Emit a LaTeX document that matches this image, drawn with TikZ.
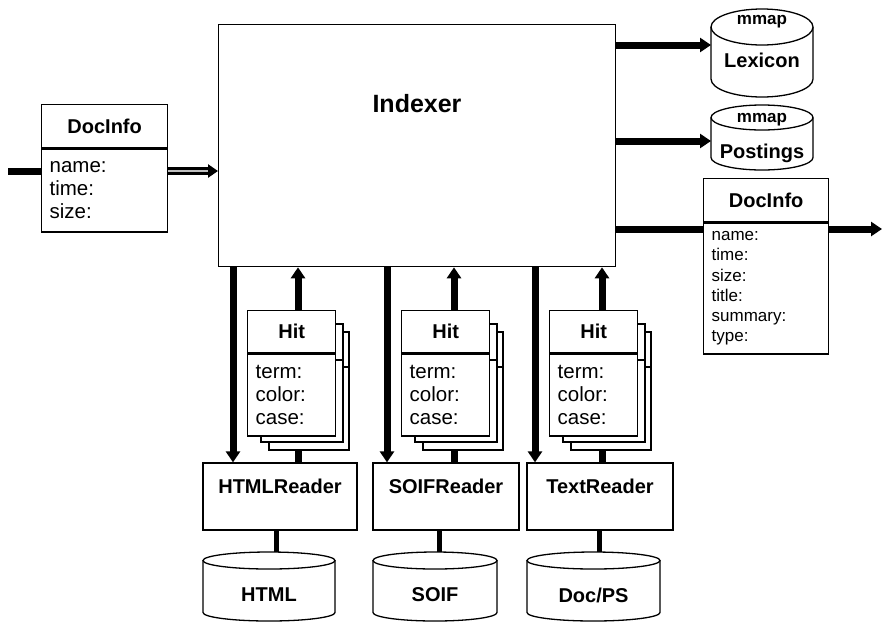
\documentclass[tikz,border=0pt]{standalone}
\usepackage{fontspec}
\setmainfont{Liberation Sans}
\usetikzlibrary{arrows.meta,positioning,calc}

% storage drum: name, centre x, top y, width, height, cap radius
\newcommand{\drum}[6]{%
    \pgfmathsetmacro\drumrx{#4/2}%
    \pgfmathsetmacro\drumtop{#3+#6}%
    \pgfmathsetmacro\drumbot{#3+#5-#6}%
    \draw[store] (#2-\drumrx,\drumtop) -- (#2-\drumrx,\drumbot) arc[start angle=180, end angle=0, x radius=\drumrx, y radius=#6] -- (#2+\drumrx,\drumtop);
    \draw[store] (#2,\drumtop) ellipse [x radius=\drumrx, y radius=#6];
    \node[inner sep=0pt, minimum width=#4pt, minimum height=#5pt, anchor=north] (#1) at (#2,#3) {};
}

\begin{document}
\begin{tikzpicture}[x=1pt, y=-1pt,
    box/.style={draw, line width=1.3pt, fill=white, inner sep=0pt},
    store/.style={draw, line width=1.3pt, fill=white},
    title/.style={font=\fontsize{20}{24}\selectfont\bfseries},
    fields/.style={font=\fontsize{20.5}{23}\selectfont, align=left, inner xsep=8pt, inner ysep=0pt},
    smallfields/.style={font=\fontsize{17}{20.2}\selectfont, align=left, inner xsep=8pt, inner ysep=0pt},
    flow/.style={line width=7pt, -{Triangle[length=11pt, width=14pt]}},
    link/.style={line width=7pt}]
    \useasboundingbox (0,0) rectangle (882,622);

    % Indexer
    \node[box, anchor=north west, minimum width=397pt, minimum height=242pt] (indexer) at (218,24) {};
    \node[font=\fontsize{25}{30}\selectfont\bfseries] (indexerlbl) at (417,104) {Indexer};

    % DocInfo going in
    \node[box, title, anchor=north west, minimum width=126pt, minimum height=43pt] (docin) at (41,104) {DocInfo};
    \node[box, fields, anchor=north west, text width=110pt, minimum height=83pt] (docinbody) at (docin.south west) {name:\\time:\\size:};
    \coordinate (docsrc) at (8,171);
    \draw[link] (docsrc) -- (docsrc -| docinbody.west);
    \draw[line width=3pt, double=gray!50, double distance=2pt, -{Triangle[length=10pt, width=13pt]}] (docsrc -| docinbody.east) -- (docsrc -| indexer.west);

    % Memory mapped stores
    \drum{lexicon}{762}{9}{102}{88}{18}
    \node[title] (lexlbl) at (762,60) {Lexicon};
    \node[font=\fontsize{17}{20}\selectfont\bfseries] (lexmmap) at (762,22) {mmap};
    \drum{postings}{762}{105}{102}{65}{12.5}
    \node[title] (postlbl) at (762,153) {Postings};
    \node[font=\fontsize{17}{20}\selectfont\bfseries] (postmmap) at (762,120) {mmap};
    \coordinate (lexin) at (711,45);
    \coordinate (postin) at (711,141);
    \draw[flow] (indexer.east |- lexin) -- (lexin);
    \draw[flow] (indexer.east |- postin) -- (postin);

    % DocInfo going out
    \node[box, title, anchor=north west, minimum width=125pt, minimum height=43pt] (docout) at (703,178) {DocInfo};
    \node[box, smallfields, anchor=north west, text width=109pt, minimum height=131pt] (docoutbody) at (docout.south west) {name:\\time:\\size:\\title:\\summary:\\type:};
    \coordinate (docsink) at (882,229);
    \draw[link] (indexer.east |- docsink) -- (docsink -| docoutbody.west);
    \draw[flow] (docsink -| docoutbody.east) -- (docsink);

    % Readers, their hits and their sources
    \foreach \i/\hx/\rx/\rw/\sx/\sw/\dx/\ux/\lx/\rname/\sname in {
        1/247/280/154/269/132/233/298/276/HTMLReader/HTML,
        2/401/446/146/435/124/387/454/439/SOIFReader/SOIF,
        3/549/600/146/593.5/133/535/602/599/TextReader/{Doc/PS}} {
        \coordinate (dn\i) at (\dx,0);
        \coordinate (up\i) at (\ux,0);
        \coordinate (lk\i) at (\lx,0);
        \coordinate (foot\i) at (\ux,450);

        % stacked hits
        \draw[box] ({\hx+22},332) rectangle ({\hx+102},450);
        \draw[line width=1.3pt] ({\hx+22},367) -- ({\hx+102},367);
        \draw[box] ({\hx+14},324) rectangle ({\hx+96},442);
        \draw[line width=1.3pt] ({\hx+14},360) -- ({\hx+96},360);
        \node[box, title, anchor=north west, minimum width=88pt, minimum height=42pt] (hit\i) at (\hx,310) {Hit};
        \node[box, fields, anchor=north west, text width=72pt, minimum height=82pt] (hitbody\i) at (hit\i.south west) {term:\\color:\\case:};

        \node[box, minimum width=\rw pt, minimum height=67pt] (reader\i) at (\rx,496.5) {};
        \node[title] (readerlbl\i) at ($(reader\i.north)+(0,24)$) {\rname};

        \drum{src\i}{\sx}{552}{\sw}{69}{8.5}
        \node[title] (srclbl\i) at (\sx,595) {\sname};

        \draw[flow] (indexer.south -| dn\i) -- (reader\i.north -| dn\i);
        \draw[flow] (hit\i.north -| up\i) -- (indexer.south -| up\i);
        \draw[link] (reader\i.north -| up\i) -- (foot\i);
        \draw[line width=5pt] (reader\i.south -| lk\i) -- (src\i.north -| lk\i);
    }
\end{tikzpicture}
\end{document}
